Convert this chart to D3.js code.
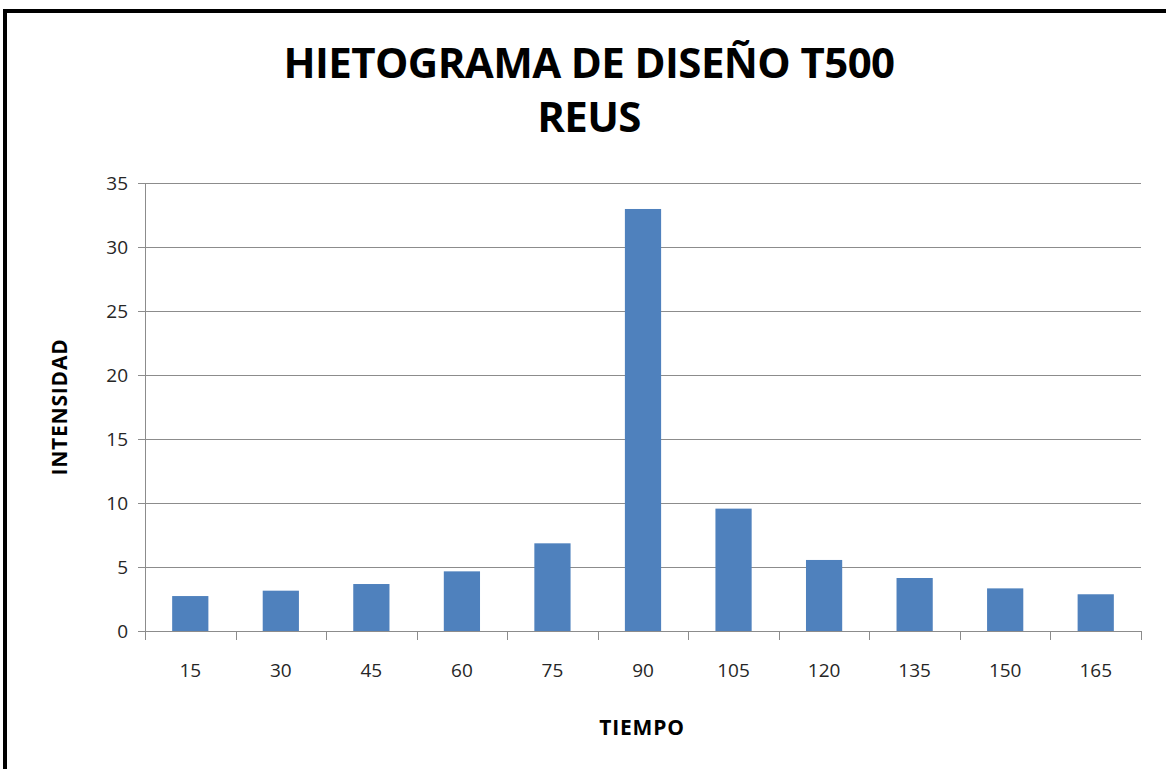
<!DOCTYPE html>
<html>
<head>
<meta charset="utf-8">
<script src="https://cdn.jsdelivr.net/npm/d3@7"></script>
<style>
  body { margin: 0; background: #fff; }
  text { font-family: "Open Sans", "Noto Sans", sans-serif; }
</style>
</head>
<body>
<svg id="drawing_region"></svg>
<script>
const tiempo = ["15", "30", "45", "60", "75", "90", "105", "120", "135", "150", "165"];
const intensidad = [2.73, 3.15, 3.67, 4.66, 6.85, 32.97, 9.56, 5.55, 4.14, 3.33, 2.87];
const yTicks = [0, 5, 10, 15, 20, 25, 30, 35];
const titleLines = ["HIETOGRAMA DE DISEÑO T500", "REUS"];

const data = tiempo.map((t, i) => ({ t: t, v: intensidad[i] }));

const width = 1166, height = 769;
const margin = { top: 183, right: 25, bottom: 138, left: 145 };
const inner_width = width - margin.left - margin.right;
const inner_height = height - margin.top - margin.bottom;

const svg = d3.select('#drawing_region')
    .attr('width', width)
    .attr('height', height);

// outer frame (left and top edges only)
svg.append('path')
    .attr('d', `M5,${height} L5,11 L${width},11`)
    .attr('fill', 'none')
    .attr('stroke', 'black')
    .attr('stroke-width', 4);

// title
svg.selectAll('.title')
    .data(titleLines)
    .enter()
    .append('text')
    .attr('class', 'title')
    .attr('x', 589)
    .attr('y', (d, i) => 78 + i * 54)
    .attr('text-anchor', 'middle')
    .attr('font-size', 42)
    .attr('font-weight', 'bold')
    .attr('letter-spacing', -0.6)
    .text(d => d);

const chart = svg.append('g')
    .attr('transform', `translate(${margin.left}, ${margin.top})`);

const xscale = d3.scaleBand()
    .domain(tiempo)
    .range([0, inner_width])
    .paddingInner(0.6)
    .paddingOuter(0.3);

const yscale = d3.scaleLinear()
    .domain([0, 35])
    .range([inner_height, 0]);

// gridlines
chart.selectAll('.grid')
    .data(yTicks.filter(d => d > 0))
    .enter()
    .append('line')
    .attr('x1', 0)
    .attr('x2', inner_width)
    .attr('y1', d => yscale(d) + 0.5)
    .attr('y2', d => yscale(d) + 0.5)
    .attr('stroke', '#8c8c8c')
    .attr('stroke-width', 1);

// y axis
const yaxis_group = chart.append('g')
    .call(d3.axisLeft(yscale).tickValues(yTicks).tickSize(7).tickPadding(10));

// x axis
const step = inner_width / tiempo.length;
const xaxis_group = chart.append('g')
    .attr('transform', `translate(0, ${inner_height})`)
    .call(d3.axisBottom(xscale).tickSize(0).tickPadding(33));

xaxis_group.selectAll('.xtick')
    .data(d3.range(tiempo.length + 1))
    .enter()
    .append('line')
    .attr('class', 'xtick')
    .attr('x1', d => Math.round(d * step) + 0.5)
    .attr('x2', d => Math.round(d * step) + 0.5)
    .attr('y1', 0)
    .attr('y2', 9)
    .attr('stroke', '#8c8c8c');

[yaxis_group, xaxis_group].forEach(g => {
    g.select('.domain').attr('stroke', '#8c8c8c');
    g.selectAll('.tick line').attr('stroke', '#8c8c8c');
    g.selectAll('.tick text')
        .attr('font-size', 19)
        .attr('fill', '#262626')
        .attr('font-family', '"Open Sans", sans-serif');
});
xaxis_group.select('.domain').attr('d', `M0.5,0.5H${inner_width + 0.5}`);

// bars
chart.selectAll('.bar')
    .data(data)
    .enter()
    .append('rect')
    .attr('class', 'bar')
    .attr('x', d => xscale(d.t))
    .attr('y', d => yscale(d.v))
    .attr('width', xscale.bandwidth())
    .attr('height', d => inner_height - yscale(d.v))
    .attr('fill', '#4f81bd');

// axis titles
svg.append('text')
    .attr('transform', `translate(67, 407) rotate(-90)`)
    .attr('text-anchor', 'middle')
    .attr('font-size', 21)
    .attr('font-weight', 'bold')
    .attr('letter-spacing', 0.8)
    .text('INTENSIDAD');

svg.append('text')
    .attr('x', 642)
    .attr('y', 735)
    .attr('text-anchor', 'middle')
    .attr('font-size', 21)
    .attr('font-weight', 'bold')
    .attr('letter-spacing', 0.8)
    .text('TIEMPO');
</script>
</body>
</html>
